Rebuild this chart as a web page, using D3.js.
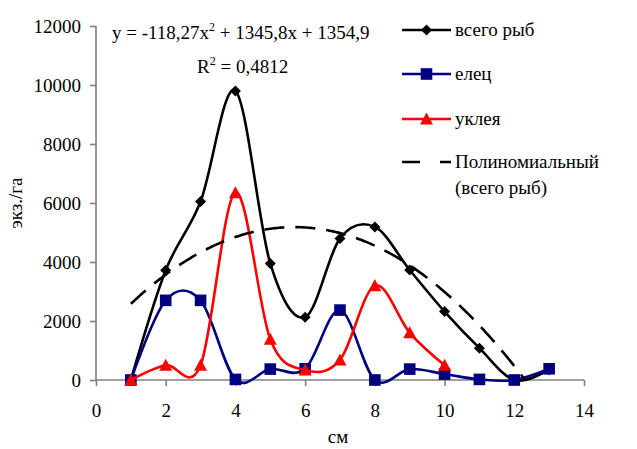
<!DOCTYPE html>
<html><head><meta charset="utf-8">
<script src="https://cdn.jsdelivr.net/npm/d3@7/dist/d3.min.js"></script>
<style>
body{margin:0;background:#fff;}
svg text{font-family:"Liberation Serif","Times New Roman",serif;fill:#000;}
</style></head>
<body><svg id="c" width="637" height="449"></svg>
<script>
const xValues = [1,2,3,4,5,6,7,8,9,10,11,12,13];
const totalFish = [0,3720,6050,9800,3950,2130,4800,5190,3730,2320,1080,0,350];
const dace = [0,2700,2700,20,370,380,2370,0,370,200,20,0,380];
const bleakX = [1,2,3,4,5,6,7,8,9,10];
const bleak = [0,500,500,6350,1380,340,680,3200,1600,500];
const trendCoef = [-118.27, 1345.8, 1354.9];
const xTicks = [0,2,4,6,8,10,12,14];
const yTicks = [0,2000,4000,6000,8000,10000,12000];
const seriesNames = ["всего рыб","елец","уклея","Полиномиальный","(всего рыб)"];
const equationText = ["y = -118,27x", "2", " + 1345,8x + 1354,9"];
const r2Text = ["R", "2", " = 0,4812"];
const axisTitles = ["см","экз./га"];

const svg = d3.select("#c");
const L=96, R=584, T=26, B=380;
const x = d3.scaleLinear().domain([0,14]).range([L,R]);
const y = d3.scaleLinear().domain([0,12000]).range([B,T]);
const FS = 19;

const gx = svg.append("g").attr("transform",`translate(0,${B})`)
  .call(d3.axisBottom(x).tickValues(xTicks).tickSize(6).tickPadding(18).tickFormat(d3.format("d")));
const gy = svg.append("g").attr("transform",`translate(${L},0)`)
  .call(d3.axisLeft(y).tickValues(yTicks).tickSize(6).tickPadding(9).tickFormat(d=>String(d)));
[gx,gy].forEach(g=>{
  g.selectAll("path,line").attr("stroke","#808080").attr("stroke-width",1.6);
  g.selectAll("text").style("font-size",FS+"px").attr("fill","#000");
  g.attr("font-family",null);
});
gy.select(".domain").attr("d",`M0,${T}V${B}`);
gx.select(".domain").attr("d",`M${L},0H${R}`);

svg.append("text").attr("x",338).attr("y",443).attr("text-anchor","middle").style("font-size",FS+"px").text(axisTitles[0]);
svg.append("text").attr("transform","translate(22,203) rotate(-90)").attr("text-anchor","middle").style("font-size",FS+"px").text(axisTitles[1]);

const curve = d3.curveCatmullRom.alpha(0);
const line = d3.line().x(d=>x(d[0])).y(d=>y(d[1])).curve(curve);

function diamond(g,cx,cy,c){ const s=5.5; g.append("path").attr("d",`M${cx},${cy-s}L${cx+s},${cy}L${cx},${cy+s}L${cx-s},${cy}Z`).attr("fill",c);}
function square(g,cx,cy,c){ const s=5.8; g.append("rect").attr("x",cx-s).attr("y",cy-s).attr("width",2*s).attr("height",2*s).attr("fill",c);}
function tri(g,cx,cy,c){ const s=6.5; g.append("path").attr("d",`M${cx},${cy-s}L${cx+s},${cy+s*0.85}L${cx-s},${cy+s*0.85}Z`).attr("fill",c);}

const series = [
  {xs:xValues, ys:totalFish, color:"#000000", marker:diamond},
  {xs:xValues, ys:dace, color:"#000080", marker:square},
  {xs:bleakX, ys:bleak, color:"#FF0000", marker:tri}
];
series.forEach(s=>{
  const pts = s.xs.map((v,i)=>[v,s.ys[i]]);
  const g = svg.append("g");
  g.append("path").attr("d",line(pts)).attr("fill","none").attr("stroke",s.color).attr("stroke-width",2.6);
  pts.forEach(p=>s.marker(g,x(p[0]),y(p[1]),s.color));
});

svg.append("clipPath").attr("id","pc").append("rect").attr("x",L).attr("y",T).attr("width",R-L).attr("height",B-T);
const trend = d3.range(1,13.001,0.05).map(v=>[v, trendCoef[0]*v*v+trendCoef[1]*v+trendCoef[2]]);
svg.append("path").attr("clip-path","url(#pc)")
  .attr("d",d3.line().x(d=>x(d[0])).y(d=>y(d[1]))(trend))
  .attr("fill","none").attr("stroke","#000").attr("stroke-width",2.6).attr("stroke-dasharray","20,11");

const eq = svg.append("text").attr("x",112).attr("y",39).style("font-size",FS+"px");
eq.append("tspan").text(equationText[0]);
eq.append("tspan").attr("dy",-8).style("font-size","12px").text(equationText[1]);
eq.append("tspan").attr("dy",8).text(equationText[2]);
const r2 = svg.append("text").attr("x",197).attr("y",73).style("font-size",FS+"px");
r2.append("tspan").text(r2Text[0]);
r2.append("tspan").attr("dy",-8).style("font-size","12px").text(r2Text[1]);
r2.append("tspan").attr("dy",8).text(r2Text[2]);

const lg = svg.append("g");
const rows = [30,74,119];
series.forEach((s,i)=>{
  lg.append("line").attr("x1",402).attr("x2",451).attr("y1",rows[i]).attr("y2",rows[i]).attr("stroke",s.color).attr("stroke-width",2.6);
  s.marker(lg,426.5,rows[i],s.color);
  lg.append("text").attr("x",455).attr("y",rows[i]+6).style("font-size",FS+"px").text(seriesNames[i]);
});
lg.append("line").attr("x1",402).attr("x2",451).attr("y1",162).attr("y2",162).attr("stroke","#000").attr("stroke-width",2.6).attr("stroke-dasharray","18,20");
lg.append("text").attr("x",455).attr("y",168).style("font-size",FS+"px").text(seriesNames[3]);
lg.append("text").attr("x",455).attr("y",194).style("font-size",FS+"px").text(seriesNames[4]);
</script></body></html>
